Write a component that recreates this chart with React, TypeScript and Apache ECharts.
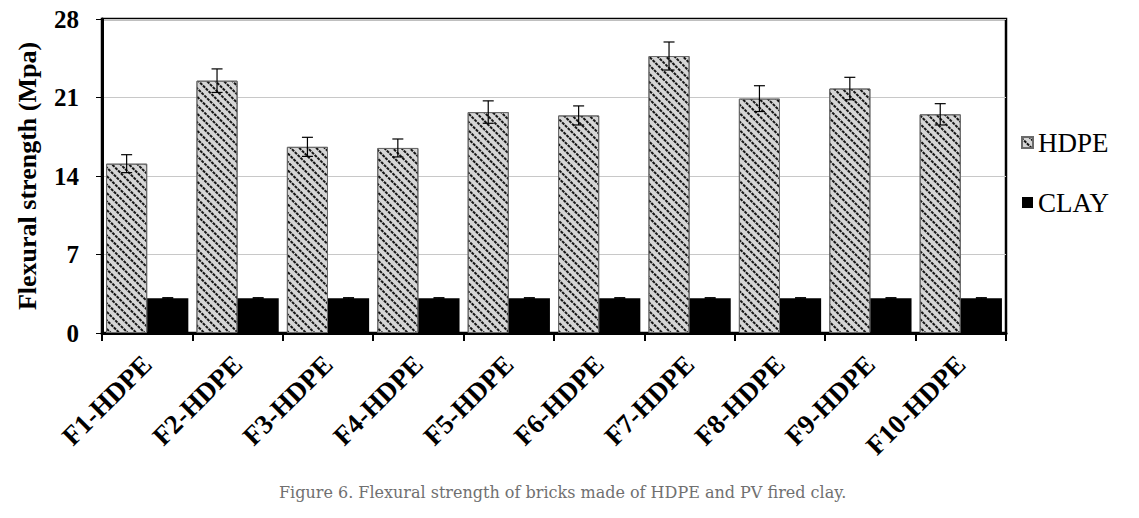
import React, { useEffect, useRef } from "react";
import * as echarts from "echarts";

const categories = ["F1-HDPE", "F2-HDPE", "F3-HDPE", "F4-HDPE", "F5-HDPE", "F6-HDPE", "F7-HDPE", "F8-HDPE", "F9-HDPE", "F10-HDPE"];
const hdpeValues = [15.1, 22.5, 16.6, 16.5, 19.7, 19.4, 24.7, 20.9, 21.8, 19.5];
const hdpeErrors = [0.8, 1.05, 0.85, 0.8, 1.0, 0.85, 1.25, 1.15, 1.0, 0.95];
const clayValues = [3.1, 3.1, 3.1, 3.1, 3.1, 3.1, 3.1, 3.1, 3.1, 3.1];
const clayErrors = [0.05, 0.05, 0.05, 0.05, 0.05, 0.05, 0.05, 0.05, 0.05, 0.05];
const yTicks = [0, 7, 14, 21, 28];
const caption = "Figure 6. Flexural strength of bricks made of HDPE and PV fired clay.";

const BAR_CAT_GAP = 0.09;

function makeErrorRenderer(side: number) {
  return (params: any, api: any) => {
    const idx = api.value(0);
    const v = api.value(1);
    const e = api.value(2);
    const band = api.size([1, 0])[0];
    const bw = (band * (1 - BAR_CAT_GAP)) / 2;
    const c = api.coord([idx, v]);
    const x = c[0] + (side * bw) / 2;
    const yTop = api.coord([idx, v + e])[1];
    const yBot = api.coord([idx, v - e])[1];
    const cap = 5.5;
    const style = { stroke: "#000", lineWidth: 1.2 };
    return {
      type: "group",
      children: [
        { type: "line", shape: { x1: x, y1: yTop, x2: x, y2: yBot }, style },
        { type: "line", shape: { x1: x - cap, y1: yTop, x2: x + cap, y2: yTop }, style },
        { type: "line", shape: { x1: x - cap, y1: yBot, x2: x + cap, y2: yBot }, style },
      ],
    };
  };
}

export default function App() {
  const ref = useRef<HTMLDivElement>(null);
  useEffect(() => {
    if (!ref.current) return;
    const chart = echarts.init(ref.current, null, { renderer: "svg" });
    const serif = "Liberation Serif";
    chart.setOption({
      animation: false,
      backgroundColor: "#fff",
      title: {
        text: caption,
        left: 274,
        top: 479,
        textStyle: { fontFamily: "DejaVu Serif", fontSize: 16, fontWeight: "normal", color: "#707070" },
      },
      grid: {
        left: 102,
        right: 133,
        top: 19,
        bottom: 185,
        show: true,
        borderColor: "#000",
        borderWidth: 2.5,
      },
      legend: {
        data: ["HDPE", "CLAY"],
        orient: "vertical",
        left: 1021,
        top: 129,
        padding: 0,
        itemWidth: 11,
        itemHeight: 11,
        itemGap: 33,
        icon: "rect",
        textStyle: { fontFamily: serif, fontSize: 27, color: "#000" },
      },
      xAxis: {
        type: "category",
        data: categories,
        axisLine: { lineStyle: { color: "#000", width: 3 } },
        axisTick: { show: true, length: 8, lineStyle: { color: "#000", width: 2 } },
        axisLabel: {
          rotate: 45,
          margin: 27,
          fontFamily: serif,
          fontWeight: "bold",
          fontSize: 27,
          color: "#000",
        },
        splitLine: { show: false },
      },
      yAxis: {
        type: "value",
        min: yTicks[0],
        max: yTicks[yTicks.length - 1],
        interval: 7,
        name: "Flexural strength (Mpa)",
        nameLocation: "middle",
        nameGap: 62,
        nameTextStyle: { fontFamily: serif, fontWeight: "bold", fontSize: 26, color: "#000" },
        axisLine: { show: true, lineStyle: { color: "#000", width: 3 } },
        axisTick: { show: true, length: 6, lineStyle: { color: "#000", width: 1 } },
        axisLabel: { margin: 23, fontFamily: serif, fontWeight: "bold", fontSize: 25, color: "#000" },
        splitLine: { show: true, lineStyle: { color: "#c8c8c8", width: 1 } },
      },
      series: [
        {
          name: "HDPE",
          type: "bar",
          data: hdpeValues,
          barGap: "0%",
          barCategoryGap: BAR_CAT_GAP * 100 + "%",
          itemStyle: {
            color: "#d6d6d6",
            borderColor: "#6a6a6a",
            borderWidth: 1,
            decal: {
              symbol: "rect",
              symbolSize: 1,
              color: "rgba(0,0,0,0.9)",
              dashArrayX: [[3, 1]],
              dashArrayY: [2, 4],
              rotation: Math.PI / 4,
            },
          },
        },
        {
          name: "CLAY",
          type: "bar",
          data: clayValues,
          itemStyle: { color: "#000" },
        },
        {
          name: "HDPE err",
          type: "custom",
          renderItem: makeErrorRenderer(-1),
          data: hdpeValues.map((v, i) => [i, v, hdpeErrors[i]]),
          z: 10,
          silent: true,
        },
        {
          name: "CLAY err",
          type: "custom",
          renderItem: makeErrorRenderer(1),
          data: clayValues.map((v, i) => [i, v, clayErrors[i]]),
          z: 10,
          silent: true,
        },
      ],
    });
    return () => chart.dispose();
  }, []);
  return <div ref={ref} style={{ position: "fixed", left: 0, top: 0, width: 1139, height: 518 }} />;
}
